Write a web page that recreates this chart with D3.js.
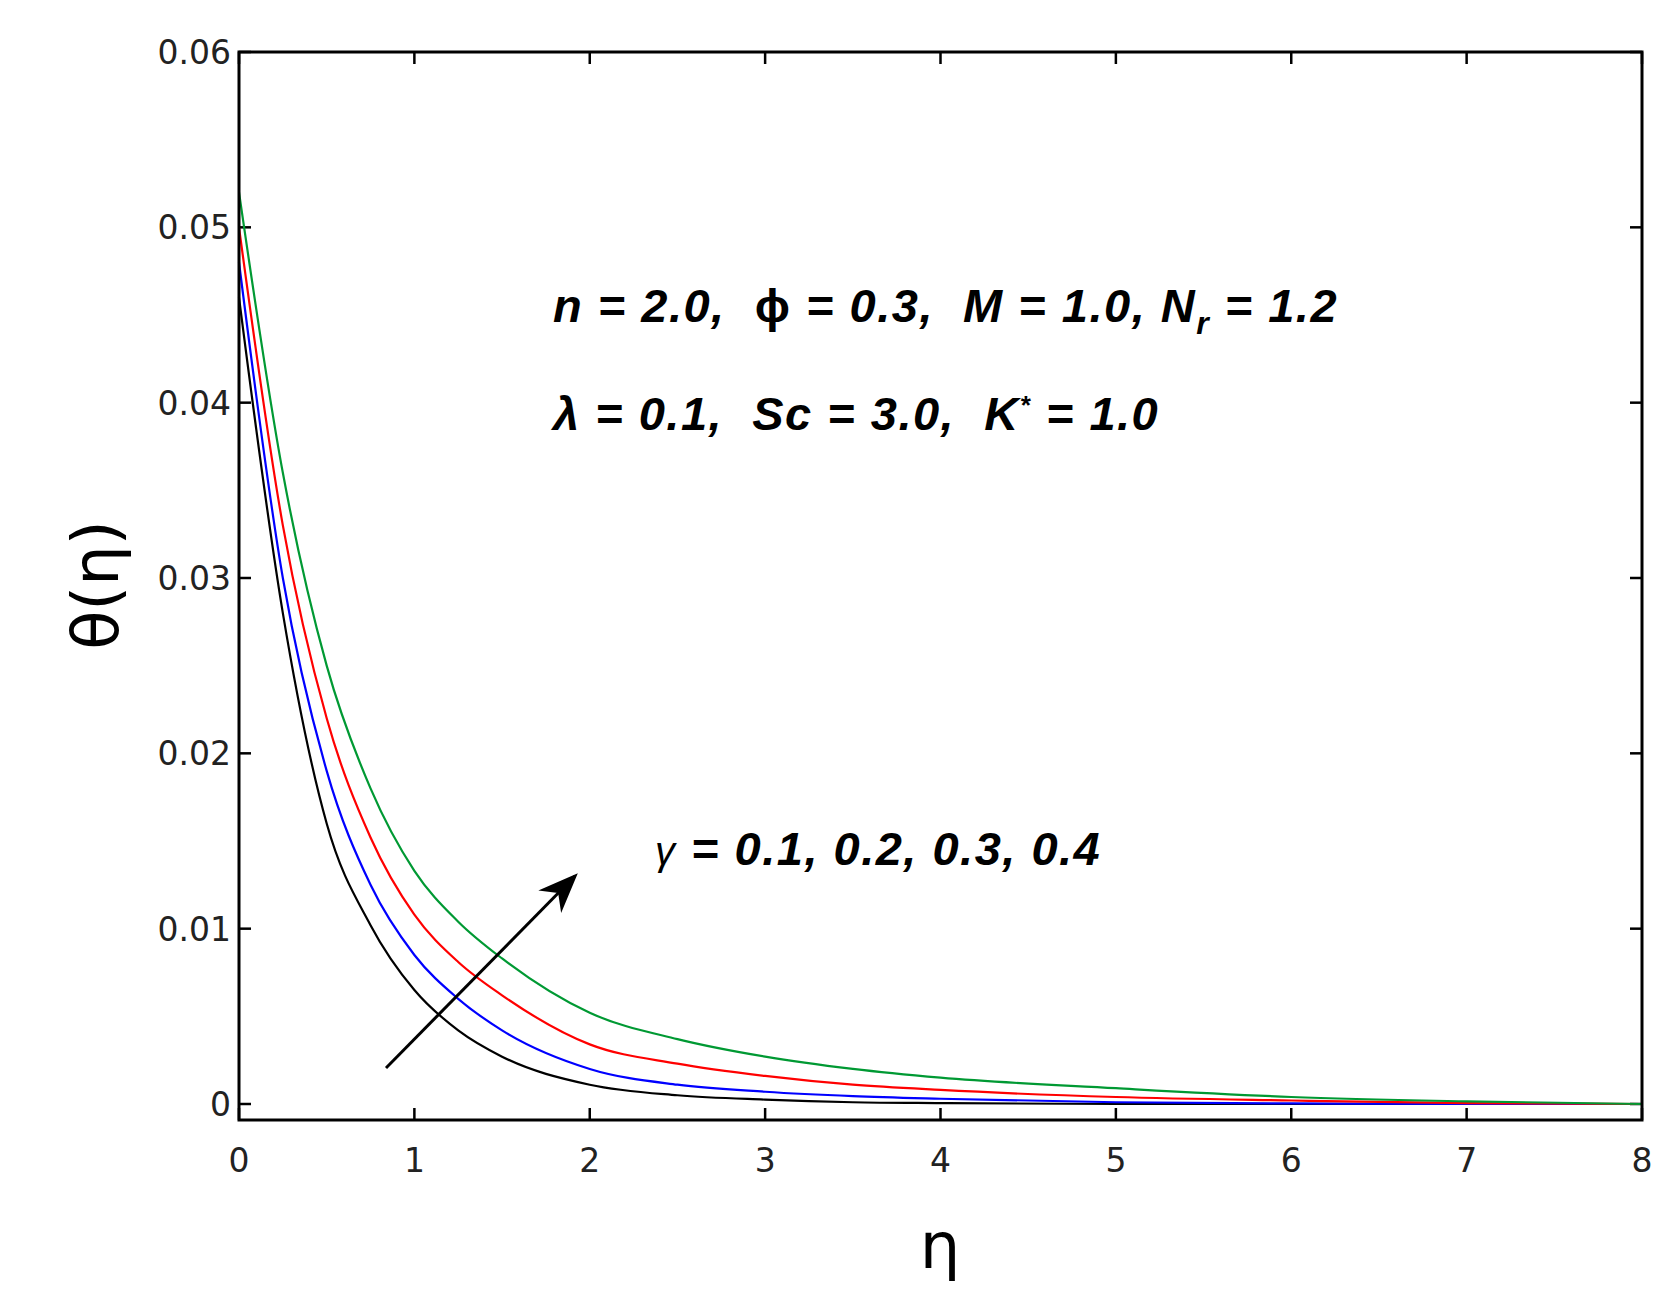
<!DOCTYPE html><html><head><meta charset="utf-8">
<script src="https://cdn.jsdelivr.net/npm/d3@7"></script>
<style>body{margin:0;background:#fff} text{white-space:pre}</style></head><body>
<svg id="c" width="1680" height="1310"></svg>
<script>
const etaVals=[0,0.25,0.5,0.75,1,1.25,1.5,2,2.5,3,3.5,4,5,6,7,8];
const gamma01=[0.046,0.028,0.016,0.0102,0.0065,0.0042,0.0027,0.0011,0.0005,0.00025,0.0001,0.00005,0,0,0,0];
const gamma02=[0.048,0.030,0.019,0.0125,0.0085,0.006,0.0042,0.002,0.0011,0.0007,0.00045,0.0003,0.0001,0.00003,0,0];
const gamma03=[0.050,0.033,0.022,0.0152,0.0108,0.0081,0.0062,0.0034,0.0023,0.0016,0.0011,0.0008,0.0004,0.0002,0.00005,0];
const gamma04=[0.052,0.036,0.025,0.018,0.0133,0.0104,0.0083,0.0052,0.0037,0.0027,0.002,0.0015,0.0009,0.0004,0.00015,0];
const seriesColors=["#000000","#0000ff","#ff0000","#009933"];
const xTicks=[0,1,2,3,4,5,6,7,8];
const yTicks=[0,0.01,0.02,0.03,0.04,0.05,0.06];
const svg=d3.select("#c");
const L=239,R=1642,T=52,B=1120;
const x=d3.scaleLinear().domain([0,8]).range([L,R]);
const y=d3.scaleLinear().domain([0,0.06]).range([1104,T]);
const g=svg.append("g");
const tl=12;
xTicks.forEach(t=>{
 g.append("line").attr("x1",x(t)).attr("x2",x(t)).attr("y1",B).attr("y2",B-tl).attr("stroke","#000").attr("stroke-width",2.5);
 g.append("line").attr("x1",x(t)).attr("x2",x(t)).attr("y1",T).attr("y2",T+tl).attr("stroke","#000").attr("stroke-width",2.5);
 g.append("text").attr("x",x(t)).attr("y",B+52).attr("text-anchor","middle").attr("font-family","DejaVu Sans").attr("font-size",33).attr("fill","#222").text(t);
});
yTicks.forEach(t=>{
 g.append("line").attr("x1",L).attr("x2",L+tl).attr("y1",y(t)).attr("y2",y(t)).attr("stroke","#000").attr("stroke-width",2.5);
 g.append("line").attr("x1",R).attr("x2",R-tl).attr("y1",y(t)).attr("y2",y(t)).attr("stroke","#000").attr("stroke-width",2.5);
 g.append("text").attr("x",L-8).attr("y",y(t)+12).attr("text-anchor","end").attr("font-family","DejaVu Sans").attr("font-size",33).attr("fill","#222").text(t===0?"0":t.toFixed(2));
});
const line=d3.line().x((d,i)=>x(etaVals[i])).y(d=>y(d)).curve(d3.curveMonotoneX);
[gamma01,gamma02,gamma03,gamma04].forEach((s,i)=>{
 g.append("path").attr("d",line(s)).attr("fill","none").attr("stroke",seriesColors[i]).attr("stroke-width",2.2);
});
g.append("rect").attr("x",L).attr("y",T).attr("width",R-L).attr("height",B-T).attr("fill","none").attr("stroke","#000").attr("stroke-width",3);
const ff="Liberation Sans, Arial";
function t(xx,yy,html,size){svg.append("text").attr("x",xx).attr("y",yy).attr("font-family",ff).attr("font-size",size).attr("font-weight","bold").attr("font-style","italic").attr("letter-spacing",1.5).html(html);}
t(553,322,'n = 2.0,  <tspan font-style="normal">ϕ</tspan> = 0.3,  M = 1.0, N<tspan dy="12" font-size="32">r</tspan><tspan dy="-12"> = 1.2</tspan>',47);
t(553,430,'λ = 0.1,  Sc = 3.0,  K<tspan dy="-16" font-size="26">*</tspan><tspan dy="16"> = 1.0</tspan>',47);
t(655,865,'<tspan font-weight="normal" font-size="40">γ</tspan> = 0.1, 0.2, 0.3, 0.4',47);
svg.append("defs").append("marker").attr("id","ah").attr("viewBox","0 0 10 10").attr("refX",9).attr("refY",5).attr("orient","auto").attr("markerUnits","userSpaceOnUse").attr("markerWidth",40).attr("markerHeight",40)
 .append("path").attr("d","M0,1 L10,5 L0,9 L3,5 Z").attr("fill","#000");
svg.append("line").attr("x1",386).attr("y1",1068).attr("x2",575).attr("y2",876).attr("stroke","#000").attr("stroke-width",3).attr("marker-end","url(#ah)");
svg.append("text").attr("transform","translate(118,585) rotate(-90)").attr("text-anchor","middle").attr("font-family","DejaVu Sans").attr("font-size",64).text("θ(η)");
svg.append("text").attr("x",940).attr("y",1268).attr("text-anchor","middle").attr("font-family","DejaVu Sans").attr("font-size",64).text("η");
</script></body></html>
